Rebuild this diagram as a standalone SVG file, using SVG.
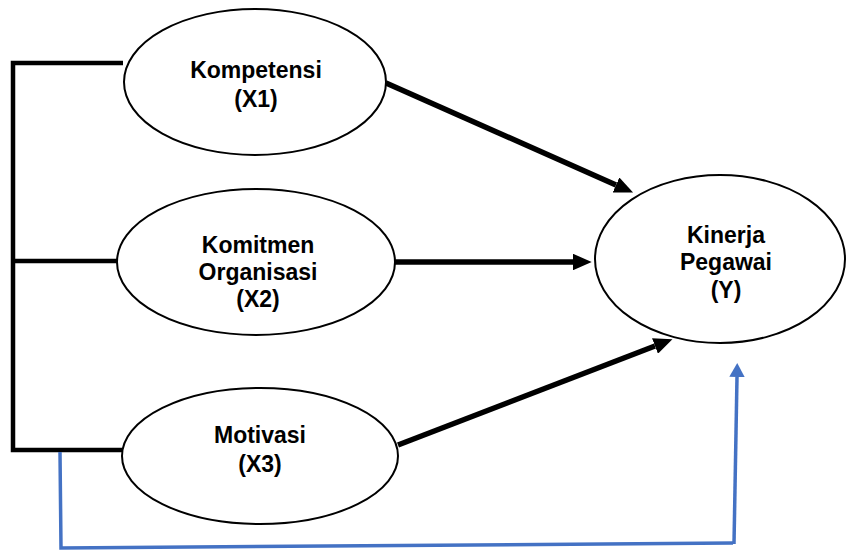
<svg xmlns="http://www.w3.org/2000/svg" width="846" height="551" viewBox="0 0 846 551">
<style>
.node ellipse{fill:#fff;stroke:#000;stroke-width:2}
.t{font-family:"Liberation Sans",Arial,sans-serif;font-weight:bold;font-size:23px;fill:#000;text-anchor:middle}
.blk{stroke:#000;stroke-width:4.5;fill:none}
.arr{stroke:#000;stroke-width:5.5;fill:none}
.blue{stroke:#4472C4;stroke-width:3.5;fill:none}
</style>
<defs>
<marker id="ah" markerWidth="3.4" markerHeight="3" refX="0" refY="1.5" orient="auto" markerUnits="strokeWidth" viewBox="0 0 3.4 3">
<path d="M0,0 L3.4,1.5 L0,3 Z" fill="#000"/>
</marker>
<marker id="ahb" markerWidth="4" markerHeight="4.4" refX="0" refY="2.2" orient="auto" markerUnits="strokeWidth" viewBox="0 0 4 4.4">
<path d="M0,0 L4,2.2 L0,4.4 Z" fill="#4472C4"/>
</marker>
</defs>
<g id="connectors">
<path class="blk" d="M123,63 H13 V450 H122"/>
<path class="blk" d="M13,261 H117"/>
<line class="arr" x1="386" y1="83" x2="616" y2="185" marker-end="url(#ah)"/>
<line class="arr" x1="390" y1="262" x2="573" y2="262" marker-end="url(#ah)"/>
<line class="arr" x1="398" y1="445" x2="655" y2="346" marker-end="url(#ah)"/>
<path class="blue" d="M60,452 L61,548 L733,543"/>
<line class="blue" x1="734" y1="544" x2="737" y2="377" marker-end="url(#ahb)"/>
</g>
<g id="x1" class="node">
<ellipse cx="255" cy="82" rx="131" ry="73"/>
<text class="t" x="256" y="78">Kompetensi</text>
<text class="t" x="256" y="107">(X1)</text>
</g>
<g id="x2" class="node">
<ellipse cx="256" cy="262" rx="139" ry="73"/>
<text class="t" x="258" y="253">Komitmen</text>
<text class="t" x="258" y="280">Organisasi</text>
<text class="t" x="258" y="307">(X2)</text>
</g>
<g id="x3" class="node">
<ellipse cx="260" cy="456" rx="138" ry="68"/>
<text class="t" x="260" y="443">Motivasi</text>
<text class="t" x="260" y="472">(X3)</text>
</g>
<g id="y" class="node">
<ellipse cx="720" cy="259" rx="125" ry="84"/>
<text class="t" x="726" y="243">Kinerja</text>
<text class="t" x="726" y="270">Pegawai</text>
<text class="t" x="726" y="298">(Y)</text>
</g>
</svg>
